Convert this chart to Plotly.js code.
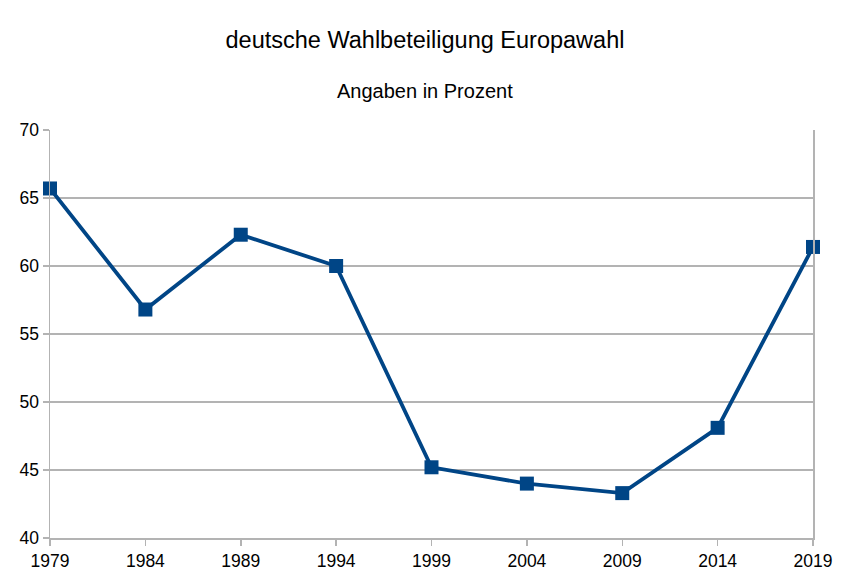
<!DOCTYPE html>
<html>
<head>
<meta charset="utf-8">
<script src="https://cdn.plot.ly/plotly-3.0.1.min.js"></script>
<style>html,body{margin:0;padding:0;background:#fff;}#chart{width:850px;height:584px;}</style>
</head>
<body>
<div id="chart"></div>
<script>
var years = [1979, 1984, 1989, 1994, 1999, 2004, 2009, 2014, 2019];
var turnout = [65.7, 56.8, 62.3, 60.0, 45.2, 44.0, 43.3, 48.1, 61.4];
var titleText = "deutsche Wahlbeteiligung Europawahl";
var subtitleText = "Angaben in Prozent";
var yTicks = [40, 45, 50, 55, 60, 65, 70];

var trace = {
  x: years, y: turnout, type: 'scatter', mode: 'lines+markers',
  line: {color: '#004586', width: 3.8},
  marker: {symbol: 'square', size: 14, color: '#004586'},
  cliponaxis: false,
  hoverinfo: 'x+y'
};
var font = {family: 'Liberation Sans, Arial, sans-serif', color: '#000'};
var layout = {
  width: 850, height: 584,
  margin: {l: 50, r: 37, t: 130, b: 46},
  paper_bgcolor: '#fff', plot_bgcolor: '#fff',
  showlegend: false,
  font: font,
  title: {text: titleText, font: {family: font.family, size: 23.5, color: '#000'},
          x: 0.5, xref: 'container', xanchor: 'center', y: 1 - 40/584, yref: 'container', yanchor: 'middle'},
  annotations: [{text: subtitleText, xref: 'paper', yref: 'paper', x: (425 - 50) / 763, y: 1 + 39/408,
                 xanchor: 'center', yanchor: 'middle', showarrow: false,
                 font: {family: font.family, size: 20, color: '#000'}}],
  xaxis: {
    type: 'linear', range: [1979, 2019], tickvals: years, ticktext: years.map(String),
    showgrid: false, zeroline: false,
    showline: true, linecolor: '#b3b3b3', linewidth: 1.5,
    ticks: 'outside', ticklen: 6, tickcolor: '#b3b3b3', tickwidth: 1.5,
    tickfont: {family: font.family, size: 17.5, color: '#000'}
  },
  yaxis: {
    range: [40, 70], tickvals: yTicks,
    showgrid: true, gridcolor: '#b3b3b3', gridwidth: 1.5, zeroline: false,
    showline: true, linecolor: '#b3b3b3', linewidth: 1.5, mirror: true,
    ticks: 'outside', ticklen: 6, tickcolor: '#b3b3b3', tickwidth: 1.5,
    tickfont: {family: font.family, size: 17.5, color: '#000'}
  }
};
Plotly.newPlot('chart', [trace], layout, {displayModeBar: false, staticPlot: true});
</script>
</body>
</html>
